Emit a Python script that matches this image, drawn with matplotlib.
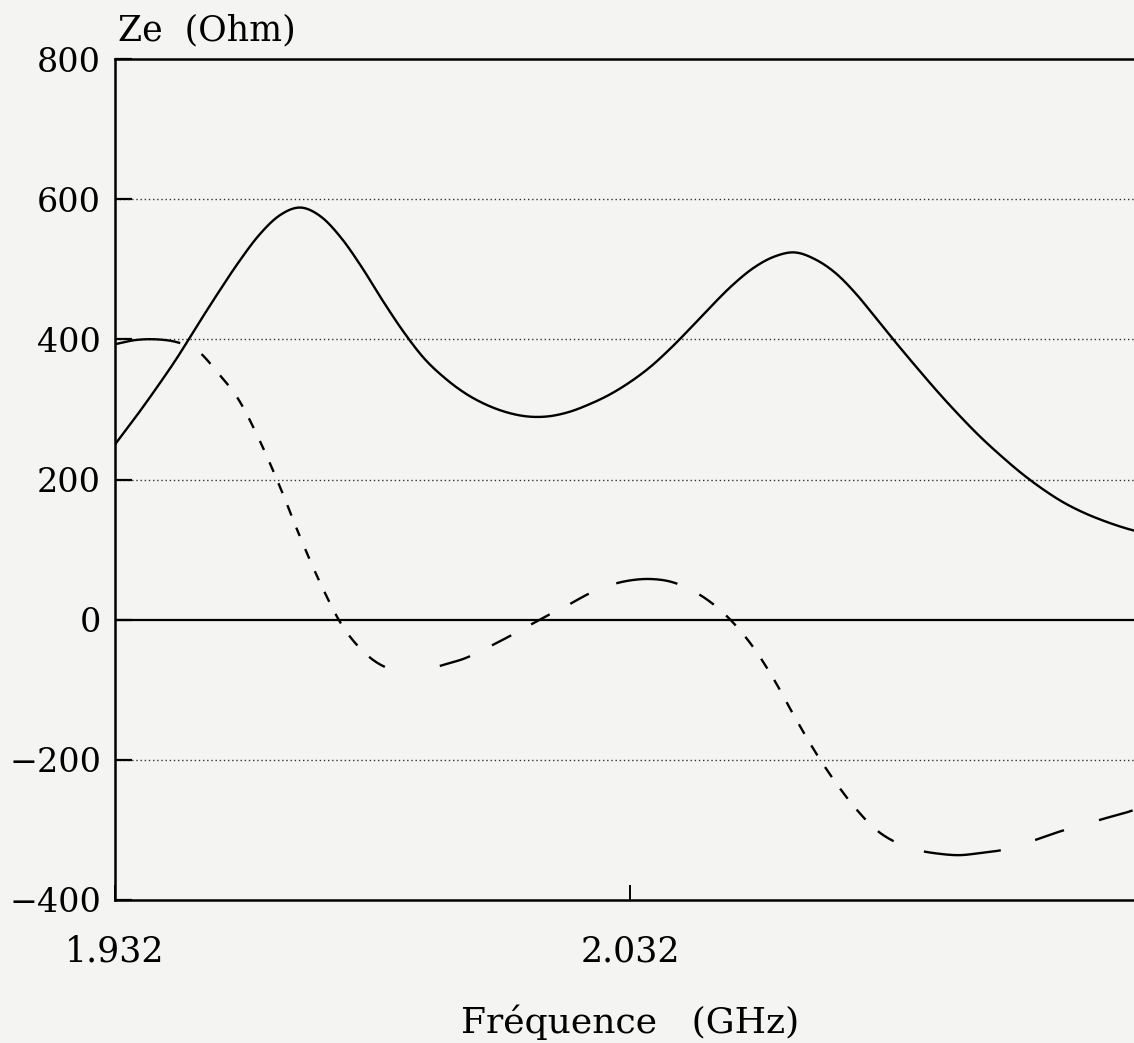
import numpy as np
import matplotlib
matplotlib.use('Agg')
import matplotlib.pyplot as plt

# frequence (GHz) and impedance Ze (Ohm)
freq = [1.932, 1.936, 1.940, 1.944, 1.948, 1.952, 1.956, 1.960, 1.964, 1.968,
        1.972, 1.976, 1.980, 1.984, 1.988, 1.992, 1.996, 2.000, 2.004, 2.008,
        2.012, 2.016, 2.020, 2.024, 2.028, 2.032, 2.036, 2.040, 2.044, 2.048,
        2.052, 2.056, 2.060, 2.064, 2.068, 2.072, 2.076, 2.080, 2.084, 2.088,
        2.092, 2.096, 2.100, 2.104, 2.108, 2.112, 2.116, 2.120, 2.124, 2.128,
        2.132]
ze_real = [250, 289, 330, 373, 420, 466, 510, 549, 577, 588,
           575, 544, 502, 455, 411, 373, 345, 323, 307, 296,
           290, 290, 296, 307, 321, 339, 361, 388, 418, 449,
           478, 502, 518, 524, 514, 494, 464, 428, 392, 357,
           323, 291, 261, 234, 209, 187, 168, 153, 141, 131,
           123]
ze_imag = [393, 399, 400, 396, 384, 352, 314, 257, 190, 117,
           50, -7, -44, -66, -73, -72, -64, -55, -41, -26,
           -10, 6, 21, 37, 49, 56, 58, 54, 42, 23,
           -4, -40, -86, -139, -189, -233, -271, -301, -319, -329,
           -334, -336, -333, -329, -321, -311, -301, -293, -284, -276,
           -266]

yticks = [-400, -200, 0, 200, 400, 600, 800]
xticks = [1.932, 2.032]

bg = '#f4f4f2'
plt.rcParams['font.family'] = 'DejaVu Serif'


def smooth(x, y, n=30):
    # Catmull-Rom curve through the read points (drawing only)
    P = np.column_stack([x, y])
    P = np.vstack([2*P[0] - P[1], P, 2*P[-1] - P[-2]])
    t = np.linspace(0, 1, n, endpoint=False)[:, None]
    out = []
    for i in range(1, len(P) - 2):
        p0, p1, p2, p3 = P[i-1], P[i], P[i+1], P[i+2]
        c1 = p1 + (p2 - p0) / 6
        c2 = p2 - (p3 - p1) / 6
        out.append((1-t)**3*p1 + 3*(1-t)**2*t*c1 + 3*(1-t)*t**2*c2 + t**3*p2)
    out.append(P[-2][None, :])
    out = np.vstack(out)
    return out[:, 0], out[:, 1]


fig = plt.figure(figsize=(11.34, 10.43), dpi=100, facecolor=bg)
ax = fig.add_axes([115/1134, 143/1043, 1030/1134, 841/1043], facecolor=bg)
ax.set_xlim(1.932, 2.132)
ax.set_ylim(-400, 800)

for y in [600, 400, 200, -200]:
    ax.axhline(y, color='#333333', lw=1.0, linestyle=(0, (1, 2)), zorder=1)
ax.axhline(0, color='black', lw=1.6, zorder=2)

xr, yr = smooth(freq, ze_real)
ax.plot(xr, yr, color='black', lw=1.7, zorder=3)

# plotter-style dashes: pattern follows the vertical pen travel
xi, yi = smooth(freq, ze_imag)
pts = ax.transData.transform(np.column_stack([xi, yi]))
px, py = pts[:, 0].copy(), pts[:, 1].copy()
step = np.abs(np.diff(py)) + 0.03 * np.abs(np.diff(px))
travel = np.concatenate([[0], np.cumsum(step)])
on = (travel % 22.0) < 11.0
px[~on] = np.nan
py[~on] = np.nan
dashed = ax.transData.inverted().transform(np.column_stack([px, py]))
ax.plot(dashed[:, 0], dashed[:, 1], color='black', lw=1.7,
        solid_capstyle='butt', zorder=3)

ax.set_yticks(yticks)
ax.set_yticklabels([str(v).replace('-', '\u2212') for v in yticks])
ax.set_xticks(xticks)
ax.set_xticklabels(['1.932', '2.032'])
ax.tick_params(axis='y', direction='in', length=12, width=1.6, pad=10,
               labelsize=24, right=False)
ax.tick_params(axis='x', direction='in', length=11, width=1.4, pad=25,
               labelsize=25, top=False)

for s in ['left', 'top', 'bottom']:
    ax.spines[s].set_linewidth(1.8)
ax.spines['right'].set_visible(False)

ax.set_xlabel('Fréquence   (GHz)', fontsize=26, labelpad=26)
fig.text(118/1134, 1 - 30/1043, 'Ze  (Ohm)', fontsize=25, ha='left', va='center')

fig.savefig('out.png', dpi=100, facecolor=fig.get_facecolor())
